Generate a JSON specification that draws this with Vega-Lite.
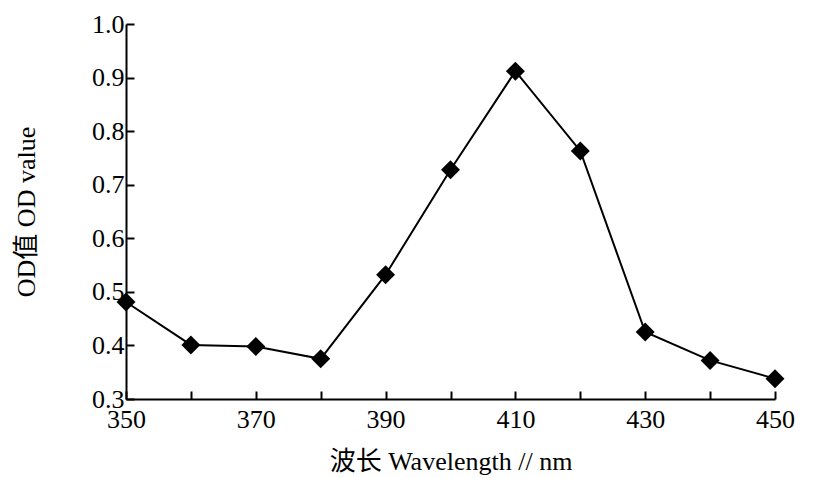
{
  "$schema": "https://vega.github.io/schema/vega-lite/v6.json",
  "autosize": "none",
  "width": 649,
  "height": 375,
  "padding": {"left": 126, "top": 24, "right": 42, "bottom": 79},
  "background": "white",
  "config": {"view": {"stroke": null}},
  "data": {"values": [
    {"wl": 350, "od": 0.481},
    {"wl": 360, "od": 0.401},
    {"wl": 370, "od": 0.398},
    {"wl": 380, "od": 0.375},
    {"wl": 390, "od": 0.532},
    {"wl": 400, "od": 0.728},
    {"wl": 410, "od": 0.912},
    {"wl": 420, "od": 0.763},
    {"wl": 430, "od": 0.425},
    {"wl": 440, "od": 0.372},
    {"wl": 450, "od": 0.338}
  ]},
  "encoding": {
    "x": {"field": "wl", "type": "quantitative",
      "scale": {"domain": [350, 450], "nice": false, "zero": false},
      "axis": {"values": [350,360,370,380,390,400,410,420,430,440,450],
        "labelExpr": "(datum.value - 350) % 20 == 0 ? datum.label : ''",
        "title": "波长 Wavelength // nm", "grid": false,
        "domainColor": "black", "domainWidth": 2, "tickColor": "black", "tickWidth": 2, "tickSize": -8,
        "labelFont": "Liberation Serif", "labelFontSize": 26, "labelColor": "black", "labelPadding": 15, "labelFlush": false,
        "titleFont": "Liberation Serif, Noto Sans CJK SC", "titleFontSize": 26, "titleFontWeight": "normal", "titleColor": "black", "titlePadding": 16}},
    "y": {"field": "od", "type": "quantitative",
      "scale": {"domain": [0.3, 1.0], "nice": false, "zero": false},
      "axis": {"values": [0.3,0.4,0.5,0.6,0.7,0.8,0.9,1.0], "format": ".1f",
        "title": "OD值 OD value", "grid": false,
        "domainColor": "black", "domainWidth": 2, "tickColor": "black", "tickWidth": 2, "tickSize": -8,
        "labelFont": "Liberation Serif", "labelFontSize": 26, "labelColor": "black", "labelPadding": 10,
        "titleFont": "Liberation Serif, Noto Sans CJK SC", "titleFontSize": 26, "titleFontWeight": "normal", "titleColor": "black", "titlePadding": 52}}
  },
  "layer": [
    {"mark": {"type": "line", "color": "black", "strokeWidth": 2}},
    {"mark": {"type": "point", "shape": "diamond", "filled": true, "color": "black", "opacity": 1, "size": 360}}
  ]
}
